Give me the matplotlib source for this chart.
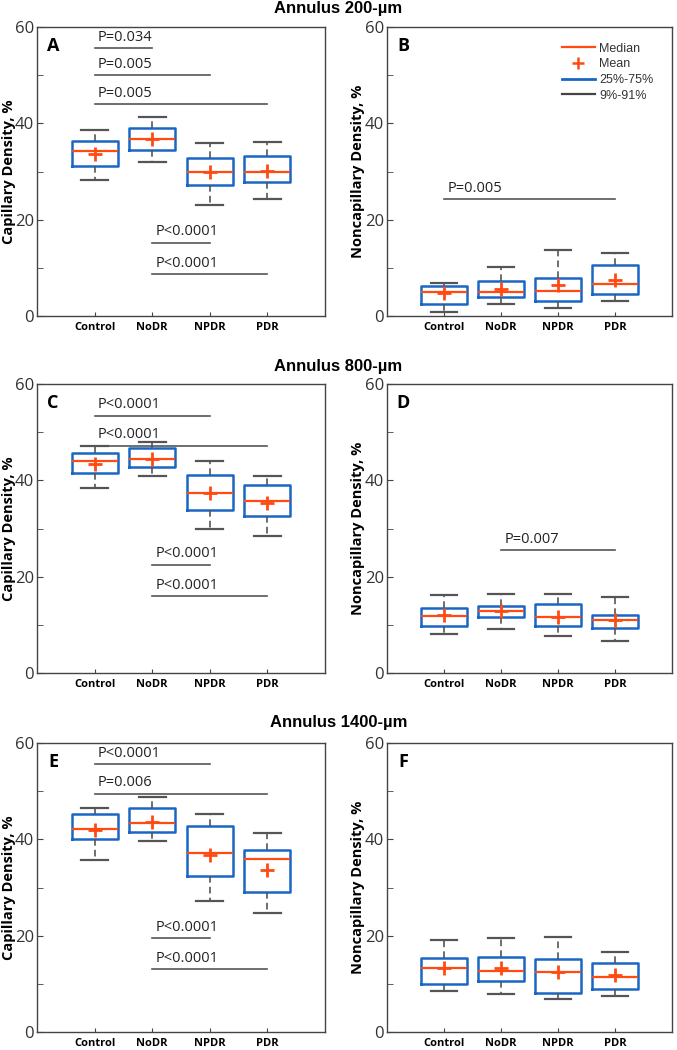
import matplotlib.pyplot as plt
from matplotlib.lines import Line2D

# Data section ---------------------------------------------------------------
groups = ["Control", "NoDR", "NPDR", "PDR"]

# Panel A - capillary density, annulus 200 um
a_p9 = [28.2, 31.9, 23.0, 24.3]
a_q1 = [31.2, 34.5, 27.2, 27.9]
a_med = [34.2, 36.7, 30.0, 30.0]
a_q3 = [36.3, 39.0, 32.8, 33.2]
a_p91 = [38.6, 41.3, 35.9, 36.1]
a_mean = [33.7, 36.7, 30.0, 30.2]

# Panel B - noncapillary density, annulus 200 um
b_p9 = [0.9, 2.4, 1.7, 3.2]
b_q1 = [2.5, 3.9, 3.2, 4.6]
b_med = [5.0, 5.0, 5.2, 6.6]
b_q3 = [6.3, 7.3, 7.8, 10.6]
b_p91 = [6.9, 10.1, 13.6, 13.0]
b_mean = [4.7, 5.7, 6.4, 7.4]

# Panel C - capillary density, annulus 800 um
c_p9 = [38.4, 40.9, 29.9, 28.5]
c_q1 = [41.6, 42.8, 33.9, 32.6]
c_med = [44.0, 44.5, 37.3, 35.7]
c_q3 = [45.7, 46.7, 41.1, 39.0]
c_p91 = [47.2, 48.0, 44.0, 40.9]
c_mean = [43.3, 44.5, 37.3, 35.3]

# Panel D - noncapillary density, annulus 800 um
d_p9 = [8.0, 9.2, 7.7, 6.7]
d_q1 = [9.8, 11.7, 9.8, 9.3]
d_med = [11.8, 12.8, 11.6, 10.9]
d_q3 = [13.4, 13.9, 14.4, 12.1]
d_p91 = [16.2, 16.3, 16.5, 15.7]
d_mean = [12.0, 12.9, 11.7, 10.9]

# Panel E - capillary density, annulus 1400 um
e_p9 = [35.7, 39.6, 27.3, 24.7]
e_q1 = [40.1, 41.6, 32.3, 29.0]
e_med = [42.2, 43.4, 37.2, 35.9]
e_q3 = [45.3, 46.6, 42.8, 37.7]
e_p91 = [46.5, 48.7, 45.3, 41.4]
e_mean = [41.9, 43.7, 36.8, 33.7]

# Panel F - noncapillary density, annulus 1400 um
f_p9 = [8.5, 7.9, 6.8, 7.5]
f_q1 = [10.0, 10.5, 8.1, 9.0]
f_med = [13.3, 12.6, 12.4, 11.4]
f_q3 = [15.4, 15.6, 15.2, 14.3]
f_p91 = [19.1, 19.5, 19.7, 16.6]
f_mean = [13.3, 13.3, 12.4, 11.8]

# Significance bars: (from group, to group, level, label)
a_sig = [(1, 2, 55.6, "P=0.034"), (1, 3, 50.0, "P=0.005"),
         (1, 4, 44.0, "P=0.005"), (2, 3, 15.2, "P<0.0001"),
         (2, 4, 8.7, "P<0.0001")]
b_sig = [(1, 4, 24.3, "P=0.005")]
c_sig = [(1, 3, 53.4, "P<0.0001"), (1, 4, 47.2, "P<0.0001"),
         (2, 3, 22.5, "P<0.0001"), (2, 4, 16.0, "P<0.0001")]
d_sig = [(2, 4, 25.5, "P=0.007")]
e_sig = [(1, 3, 55.6, "P<0.0001"), (1, 4, 49.5, "P=0.006"),
         (2, 3, 19.5, "P<0.0001"), (2, 4, 13.1, "P<0.0001")]
f_sig = []

titles = ["Annulus 200-µm", "Annulus 800-µm", "Annulus 1400-µm"]

# ============================================================================

BLUE = "#1a66c4"
RED = "#ff4a12"
GRAY = "#555555"

plt.rcParams['font.family'] = ['Open Sans', 'DejaVu Sans']

fig = plt.figure(figsize=(6.77, 10.5), dpi=100)


def make_stats(p9, q1, med, q3, p91, mean):
    stats = []
    for i in range(len(groups)):
        stats.append(dict(whislo=p9[i], q1=q1[i], med=med[i], q3=q3[i],
                          whishi=p91[i], mean=mean[i], fliers=[],
                          label=groups[i]))
    return stats


def draw_panel(ax, stats, sig, letter, ylabel, label_x):
    ax.bxp(stats, positions=[1, 2, 3, 4], widths=0.8, capwidths=0.47,
           showmeans=True, showfliers=False,
           boxprops=dict(color=BLUE, linewidth=1.8),
           medianprops=dict(color=RED, linewidth=1.6),
           whiskerprops=dict(color=GRAY, linewidth=1.2, linestyle=(0, (4, 2.5))),
           capprops=dict(color=GRAY, linewidth=1.6),
           meanprops=dict(marker="+", markeredgecolor=RED, markersize=10,
                          markeredgewidth=2.0))
    for x1, x2, y, label in sig:
        ax.plot([x1, x2], [y, y], color=GRAY, linewidth=1.2)
        ax.text(x1 + 0.06, y + 0.7, label, fontsize=10.5, color="#222222",
                ha="left", va="bottom")
    ax.set_xlim(0, 5)
    ax.set_ylim(0, 60)
    ax.set_yticks([0, 20, 40, 60])
    ax.set_yticks([10, 30, 50], minor=True)
    ax.tick_params(axis="y", which="both", direction="in", length=4,
                   labelsize=12, colors="#444444", labelcolor="#333333",
                   pad=2)
    ax.tick_params(axis="x", direction="in", length=3, pad=4,
                   colors="#444444", labelcolor="black")
    for lab in ax.get_xticklabels():
        lab.set_fontweight("bold")
        lab.set_fontsize(8)
    for sp in ax.spines.values():
        sp.set_color("#444444")
        sp.set_linewidth(1.0)
    ax.set_ylabel(ylabel, fontsize=10.5, fontweight="bold")
    ax.yaxis.set_label_coords(label_x, 0.5)
    ax.text(0.056, 0.935, letter, transform=ax.transAxes, fontsize=13,
            fontweight="bold", ha="center", va="center")


left_l = 37 / 677
left_r = 387 / 677
width_l = 288 / 677
width_r = 285 / 677
height = 289 / 1050
bottoms = [1 - 316 / 1050, 1 - 673 / 1050, 1 - 1032 / 1050]
title_y = [1 - 9 / 1050, 1 - 366 / 1050, 1 - 723 / 1050]

cap_sets = [(a_p9, a_q1, a_med, a_q3, a_p91, a_mean, a_sig, "A"),
            (c_p9, c_q1, c_med, c_q3, c_p91, c_mean, c_sig, "C"),
            (e_p9, e_q1, e_med, e_q3, e_p91, e_mean, e_sig, "E")]
non_sets = [(b_p9, b_q1, b_med, b_q3, b_p91, b_mean, b_sig, "B"),
            (d_p9, d_q1, d_med, d_q3, d_p91, d_mean, d_sig, "D"),
            (f_p9, f_q1, f_med, f_q3, f_p91, f_mean, f_sig, "F")]

for row in range(3):
    ax_l = fig.add_axes([left_l, bottoms[row], width_l, height])
    s = cap_sets[row]
    draw_panel(ax_l, make_stats(*s[:6]), s[6], s[7],
               "Capillary Density, %", -0.073)

    ax_r = fig.add_axes([left_r, bottoms[row], width_r, height])
    s = non_sets[row]
    draw_panel(ax_r, make_stats(*s[:6]), s[6], s[7],
               "Noncapillary Density, %", -0.077)

    fig.text(0.5, title_y[row], titles[row], ha="center", va="center",
             fontsize=12, fontweight="bold",
             family=["Liberation Sans", "DejaVu Sans"])

    if row == 0:
        handles = [Line2D([], [], color=RED, linewidth=1.6),
                   Line2D([], [], color=RED, linestyle="none", marker="+",
                          markersize=9, markeredgewidth=1.8),
                   Line2D([], [], color=BLUE, linewidth=2),
                   Line2D([], [], color="#444444", linewidth=1.6)]
        ax_r.legend(handles, ["Median", "Mean", "25%-75%", "9%-91%"],
                    loc="upper left", bbox_to_anchor=(0.575, 0.985),
                    frameon=False, handlelength=2.6,
                    labelspacing=0.3, handletextpad=0.35,
                    labelcolor="#333333",
                    prop={"family": ["Liberation Sans", "DejaVu Sans"],
                          "size": 9})

fig.savefig("out.png", dpi=100)
